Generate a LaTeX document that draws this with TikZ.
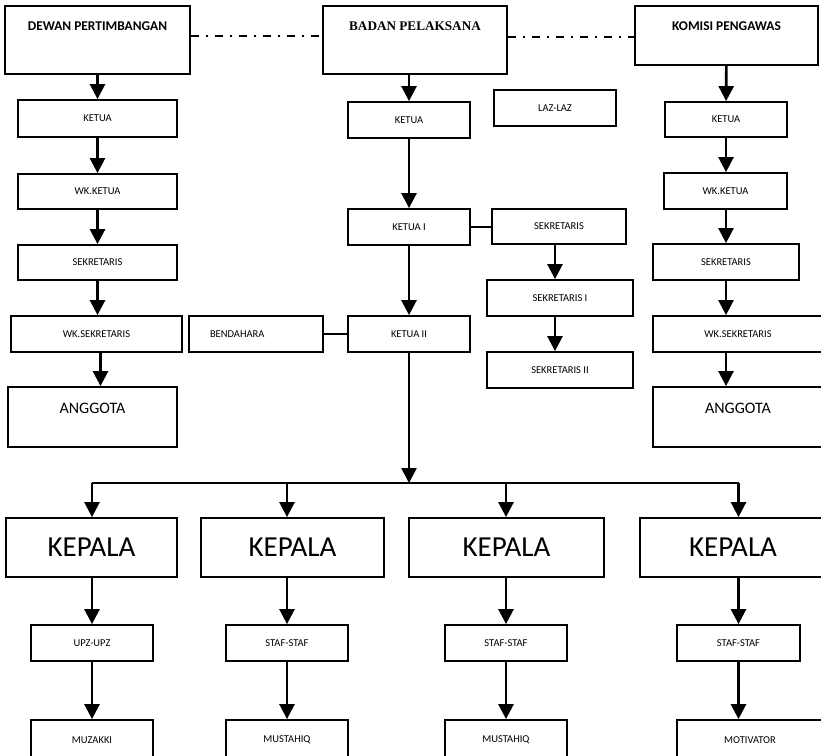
\documentclass[tikz,border=0pt]{standalone}
\usepackage{fontspec}
\setmainfont{Carlito}
\newfontfamily\timesfont{Liberation Serif}
\usetikzlibrary{arrows.meta,positioning}
\tikzset{box/.style={draw,line width=1.8pt,inner sep=0pt,align=center,
  font=\fontsize{10.5}{12}\selectfont},
  head/.style={box,font=\fontsize{13.4}{15}\selectfont\bfseries,
  text height=24.5pt,text depth=43.5pt},
  big/.style={box,font=\fontsize{16}{18}\selectfont,text height=26pt,text depth=34pt},
  kep/.style={box,font=\fontsize{29}{32}\selectfont,minimum height=59pt},
  flow/.style={-{Triangle[width=15pt,length=15pt]},line width=2.6pt},
  link/.style={line width=1.8pt},
  bus/.style={line width=2.4pt},
  sepline/.style={line width=1.3pt,dash pattern=on 8pt off 7pt on 2pt off 7pt}}
\begin{document}
\begin{tikzpicture}[x=1pt,y=-1pt]
\useasboundingbox (0,0) rectangle (821,755);
% top row
\node[head,minimum width=185pt] (dp) at (97.5,40) {DEWAN PERTIMBANGAN};
\node[head,minimum width=184pt,font=\fontsize{13.2}{15}\selectfont\timesfont\bfseries] (bp) at (415,40) {BADAN PELAKSANA};
\node[head,minimum width=183pt,text depth=34.5pt] (kp) at (726.5,35.5) {KOMISI PENGAWAS};
% dewan pertimbangan
\node[box,minimum width=159pt,minimum height=37pt] (dket) at (97.5,118.5) {KETUA};
\node[box,minimum width=159pt,minimum height=35pt] (dwk) at (97.5,191.5) {WK.KETUA};
\node[box,minimum width=159pt,minimum height=35pt] (dsek) at (97.5,262.5) {SEKRETARIS};
\node[box,minimum width=171pt,minimum height=36pt] (dwks) at (96.5,334) {WK.SEKRETARIS};
\node[big,minimum width=169pt] (dang) at (92.5,417) {ANGGOTA};
% badan pelaksana
\node[box,minimum width=122pt,minimum height=36pt] (bket) at (409,120) {KETUA};
\node[box,minimum width=122pt,minimum height=36pt] (k1) at (409,227) {KETUA I};
\node[box,minimum width=122pt,minimum height=36pt] (k2) at (409,334) {KETUA II};
\node[box,minimum height=36pt,inner xsep=21pt,text width=92pt,align=left] (bend) at (256,334) {BENDAHARA};
\node[box,minimum width=122pt,minimum height=36pt] (laz) at (555,108) {LAZ-LAZ};
\node[box,minimum width=134pt,minimum height=35pt] (msek) at (559,226.5) {SEKRETARIS};
\node[box,minimum width=146pt,minimum height=36pt] (msek1) at (560,298) {SEKRETARIS I};
\node[box,minimum width=146pt,minimum height=36pt] (msek2) at (560,370) {SEKRETARIS II};
% komisi pengawas
\node[box,minimum width=122pt,minimum height=35pt] (rket) at (726,119.5) {KETUA};
\node[box,minimum width=123pt,minimum height=36pt] (rwk) at (725.5,191) {WK.KETUA};
\node[box,minimum width=146pt,minimum height=36pt] (rsek) at (726,262) {SEKRETARIS};
\node[box,minimum width=170pt,minimum height=36pt] (rwks) at (738,334) {WK.SEKRETARIS};
\node[big,minimum width=170pt] (rang) at (738,417) {ANGGOTA};
% units
\coordinate (split) at (409,483);
\node[kep,minimum width=171pt] (kepa) at (91.5,547.5) {KEPALA};
\node[kep,minimum width=183pt] (kepb) at (292.5,547.5) {KEPALA};
\node[kep,minimum width=195pt] (kepc) at (506.5,547.5) {KEPALA};
\node[kep,minimum width=186pt] (kepd) at (733,547.5) {KEPALA};
\node[box,minimum width=122pt,minimum height=36pt] (stfa) at (92,643) {UPZ-UPZ};
\node[box,minimum width=122pt,minimum height=36pt] (stfb) at (287,643) {STAF-STAF};
\node[box,minimum width=122pt,minimum height=36pt] (stfc) at (506,643) {STAF-STAF};
\node[box,minimum width=123pt,minimum height=36pt] (stfd) at (738.5,643) {STAF-STAF};
\node[box,minimum width=122pt,minimum height=40pt] (muz) at (92,740) {MUZAKKI};
\node[box,minimum width=122pt,minimum height=40pt] (musa) at (287,740) {MUSTAHIQ};
\node[box,minimum width=122pt,minimum height=40pt] (musb) at (506,740) {MUSTAHIQ};
\node[box,minimum width=146pt,minimum height=40pt] (mot) at (750,740) {MOTIVATOR};
% connectors
\draw[sepline] ([yshift=4pt]dp.east) -- ([yshift=4pt]bp.west);
\draw[sepline] ([yshift=3pt]bp.east) -- ([yshift=3pt]bp.east -| kp.west);
\draw[flow] (dp) -- (dket);
\draw[flow] (dket) -- (dwk);
\draw[flow] (dwk) -- (dsek);
\draw[flow] (dsek.south) -- (dsek.south |- dwks.north);
\draw[flow] ([xshift=4pt]dwks.south) -- ([xshift=4pt]dwks.south |- dang.north);
\draw[flow] (bp.south -| bket) -- (bket.north);
\draw[flow] (bket) -- (k1);
\draw[flow] (k1) -- (k2);
\draw[link] (k1.east) -- (k1.east -| msek.west);
\draw[link] (bend.east) -- (bend.east -| k2.west);
\draw[flow] (msek.south -| laz) -- (msek1.north -| laz);
\draw[flow] (msek1.south -| laz) -- (msek2.north -| laz);
\draw[flow] (kp) -- (rket);
\draw[flow] (rket.south) -- (rket.south |- rwk.north);
\draw[flow] (rwk.south -| rket) -- (rsek.north -| rket);
\draw[flow] (rsek.south -| rket) -- (rwks.north -| rket);
\draw[flow] (rwks.south -| rket) -- (rang.north -| rket);
\draw[flow] (k2) -- (split);
\draw[bus] (stfa |- split) -- (stfd |- split);
\draw[flow] (stfa |- split) -- (stfa |- kepa.north);
\draw[flow] (stfb |- split) -- (stfb |- kepb.north);
\draw[flow] (stfc |- split) -- (stfc |- kepc.north);
\draw[flow] (stfd |- split) -- (stfd |- kepd.north);
\draw[flow] (stfa |- kepa.south) -- (stfa);
\draw[flow] (stfb |- kepb.south) -- (stfb);
\draw[flow] (stfc |- kepc.south) -- (stfc);
\draw[flow] (stfd |- kepd.south) -- (stfd);
\draw[flow] (stfa) -- (muz);
\draw[flow] (stfb) -- (musa);
\draw[flow] (stfc) -- (musb);
\draw[flow] (stfd) -- (stfd |- mot.north);
\end{tikzpicture}
\end{document}
